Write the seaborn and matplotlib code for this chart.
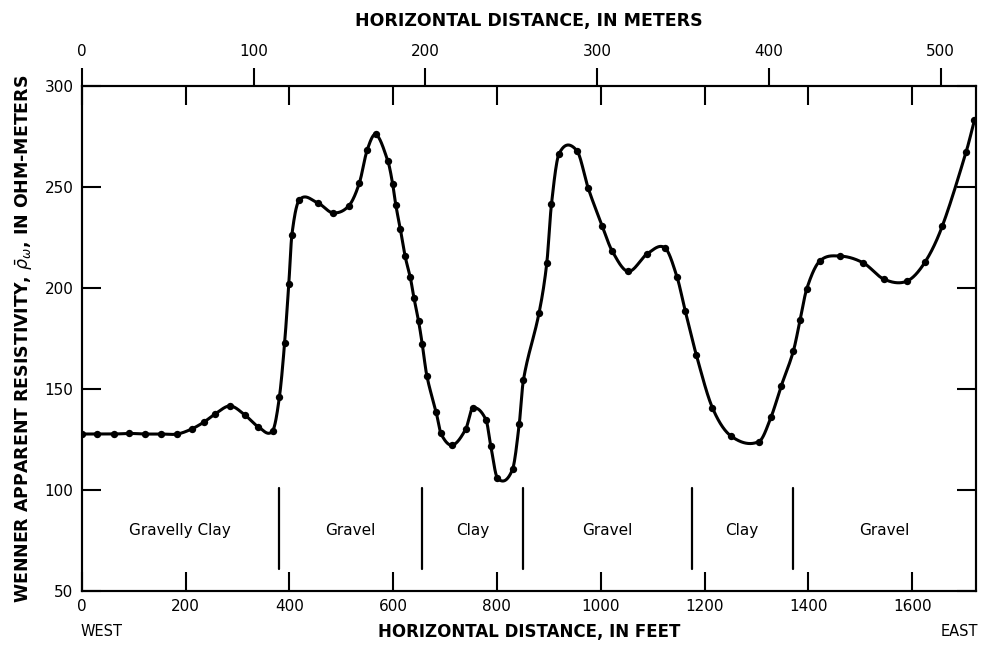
import numpy as np
import pandas as pd
import matplotlib
matplotlib.use("Agg")
import matplotlib.pyplot as plt
import seaborn as sns

# ---- data ----
distance_ft = [0, 29, 62, 92, 122, 152, 184, 212, 236, 257, 286, 315, 340, 368, 381,
               391, 399, 405, 419, 455, 484, 515, 535, 550, 567, 590, 599, 605, 614,
               623, 633, 640, 649, 656, 665, 683, 692, 714, 740, 753, 779, 788, 801,
               830, 843, 851, 881, 896, 905, 919.5, 954, 976, 1003, 1022, 1053, 1090,
               1124, 1147, 1163, 1184, 1215, 1251, 1305, 1328, 1348, 1371, 1384, 1397,
               1421.5, 1461, 1506, 1546, 1590, 1625, 1658, 1704, 1720]
resistivity = [127.7, 127.7, 127.7, 128, 127.7, 127.7, 127.7, 130.2, 133.7, 137.6, 141.6,
               137, 131.3, 129.4, 146.2, 173, 202.1, 226.4, 243.5, 242.1, 237.2, 240.8,
               252, 268.3, 276, 262.7, 251.7, 241.3, 229, 215.8, 205.4, 195.2, 183.6,
               172.4, 156.5, 138.4, 128, 122.2, 130.2, 140.4, 134.7, 122, 105.9, 110.2,
               132.7, 154.5, 187.5, 212.2, 241.4, 266.3, 268, 249.3, 230.6, 218.3,
               208.2, 217, 219.8, 205.4, 188.4, 167, 140.8, 126.7, 124, 136, 151.7,
               168.7, 184, 199.7, 213.2, 215.8, 212.4, 204.3, 203.4, 212.9, 230.6,
               267.4, 283.1]

layer_names = ["Gravelly Clay", "Gravel", "Clay", "Gravel", "Clay", "Gravel"]
layer_bounds_ft = [0, 380, 655, 850, 1175, 1370, 1723]

y_ticks = [50, 100, 150, 200, 250, 300]
ft_ticks = [0, 200, 400, 600, 800, 1000, 1200, 1400, 1600]
m_ticks = [0, 100, 200, 300, 400, 500]

X_MAX_FT = 1723
X_MAX_M = 520.5


def smooth_curve(x, y, xs):
    """Cardinal (Catmull-Rom style) Hermite curve through the measured points."""
    x = np.asarray(x, float)
    y = np.asarray(y, float)
    n = len(x)
    m = np.empty(n)
    m[1:-1] = (y[2:] - y[:-2]) / (x[2:] - x[:-2])
    m[0] = (y[1] - y[0]) / (x[1] - x[0])
    m[-1] = (y[-1] - y[-2]) / (x[-1] - x[-2])
    idx = np.clip(np.searchsorted(x, xs) - 1, 0, n - 2)
    h = x[idx + 1] - x[idx]
    t = (xs - x[idx]) / h
    h00 = 2 * t ** 3 - 3 * t ** 2 + 1
    h10 = t ** 3 - 2 * t ** 2 + t
    h01 = -2 * t ** 3 + 3 * t ** 2
    h11 = t ** 3 - t ** 2
    return h00 * y[idx] + h10 * h * m[idx] + h01 * y[idx + 1] + h11 * h * m[idx + 1]


sns.set_style("ticks")
plt.rcParams["font.family"] = ["DejaVu Sans"]
plt.rcParams.update({"text.color": "black", "axes.labelcolor": "black",
                     "xtick.color": "black", "ytick.color": "black",
                     "axes.edgecolor": "black"})

fig = plt.figure(figsize=(9.82, 6.48), dpi=100)
ax = fig.add_axes([0.0832, 0.088, 0.9107, 0.7793])

df = pd.DataFrame({"ft": distance_ft, "rho": resistivity})
xs = np.linspace(df["ft"].min(), df["ft"].max(), 2000)
curve = pd.DataFrame({"ft": xs, "rho": smooth_curve(df["ft"], df["rho"], xs)})

sns.lineplot(data=curve, x="ft", y="rho", ax=ax, color="black", linewidth=2.2,
             estimator=None, sort=False)
sns.scatterplot(data=df, x="ft", y="rho", ax=ax, color="black", s=28,
                edgecolor="black", linewidth=0, zorder=5)

# lithology boundaries and names
for xb in layer_bounds_ft[1:-1]:
    ax.plot([xb, xb], [61, 101], color="black", linewidth=1.6)
for name, a, b in zip(layer_names, layer_bounds_ft[:-1], layer_bounds_ft[1:]):
    ax.text((a + b) / 2, 80, name, ha="center", va="center", fontsize=11)

ax.set_xlim(0, X_MAX_FT)
ax.set_ylim(50, 300)
ax.set_xticks(ft_ticks)
ax.set_yticks(y_ticks)
ax.set_xlabel("")
ax.set_ylabel("WENNER APPARENT RESISTIVITY, $\\bar{\\rho}_{\\omega}$, IN OHM-METERS",
              fontsize=12.5, fontweight="bold", labelpad=7)

# top meters axis
axt = ax.twiny()
axt.set_xlim(0, X_MAX_M)
axt.set_xticks(m_ticks)
axt.tick_params(axis="x", direction="out", length=13, width=1.5, labelsize=11, pad=6.5)
axt.set_xlabel("HORIZONTAL DISTANCE, IN METERS", fontsize=12.5, fontweight="bold",
               labelpad=13)
for s in axt.spines.values():
    s.set_linewidth(1.5)

ax.tick_params(axis="both", direction="in", length=13.5, width=1.5, labelsize=11,
               top=True, right=True, labeltop=False, labelright=False)
ax.tick_params(axis="x", pad=6)
ax.tick_params(axis="y", pad=6)
for s in ax.spines.values():
    s.set_linewidth(1.5)

# bottom label and directions
fig.text(0.5393, 1 - 632 / 648, "HORIZONTAL DISTANCE, IN FEET", ha="center",
         va="center", fontsize=12, fontweight="bold")
fig.text(81 / 982, 1 - 632 / 648, "WEST", ha="left", va="center", fontsize=10.5)
fig.text(978 / 982, 1 - 632 / 648, "EAST", ha="right", va="center", fontsize=10.5)

fig.savefig("out.png", dpi=100, facecolor="white")
